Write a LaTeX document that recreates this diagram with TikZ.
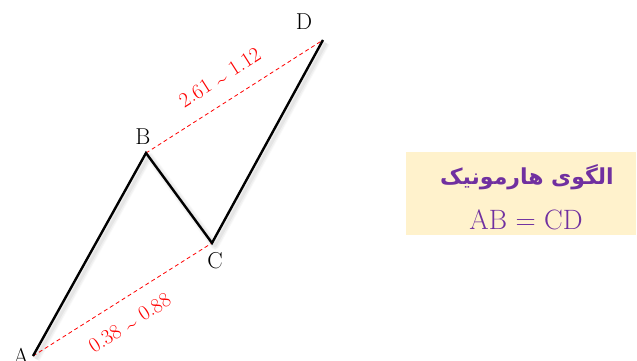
\documentclass[tikz,border=0pt]{standalone}
\usepackage{fontspec}
\newfontfamily\persianfont[Script=Arabic]{DejaVu Sans}
\TeXXeTstate=1
\newcommand\smalltilde{\ \raisebox{-0.3ex}{\textasciitilde}\ }
\begin{document}
\begin{tikzpicture}[x=1pt, y=-1pt,
  leg/.style={line width=2.4pt, black, line join=miter},
  legshadow/.style={gray, line join=round, transform canvas={shift={(3pt,-3pt)}}},
  ratio/.style={red, line width=0.8pt, dash pattern=on 4pt off 3pt},
  ptlabel/.style={font=\fontsize{23}{23}\selectfont},
  ratiolabel/.style={red, sloped, font=\fontsize{21}{21}\selectfont}]

\definecolor{boxcolor}{RGB}{255, 242, 204}
\definecolor{titlecolor}{RGB}{112, 48, 160}

\useasboundingbox (0,0) rectangle (637,361);

% turning points
\coordinate (A) at (33, 356);
\coordinate (B) at (146, 153);
\coordinate (C) at (212, 243);
\coordinate (D) at (323, 40);

% soft shadow of the legs
\foreach \w/\o in {8/0.05, 6/0.07, 3/0.1} {
  \draw[legshadow, line width=\w pt, opacity=\o] (A) -- (B) -- (C) -- (D);
}

% ratio lines
\draw[ratio] (A) -- node[ratiolabel, below, inner sep=16pt, pos=0.47] (acratio) {0.38\smalltilde 0.88} (C);
\draw[ratio] (B) -- node[ratiolabel, above, inner sep=14pt, pos=0.49] (bdratio) {2.61\smalltilde 1.12} (D);

\draw[leg] (A) -- (B) -- (C) -- (D);

\node[ptlabel] (alabel) at (21, 356) {A};
\node[ptlabel] (blabel) at (143, 137) {B};
\node[ptlabel] (clabel) at (215, 261) {C};
\node[ptlabel] (dlabel) at (304, 22) {D};

% pattern box
\fill[boxcolor] (406, 152) rectangle (636, 235);
\node[titlecolor, font=\persianfont\bfseries\fontsize{22}{22}\selectfont] (title) at (527, 177) {\beginR الگوی هارمونیک\endR};
\node[titlecolor, font=\fontsize{28}{28}\selectfont] (rule) at (526, 220) {AB = CD};

\end{tikzpicture}
\end{document}
